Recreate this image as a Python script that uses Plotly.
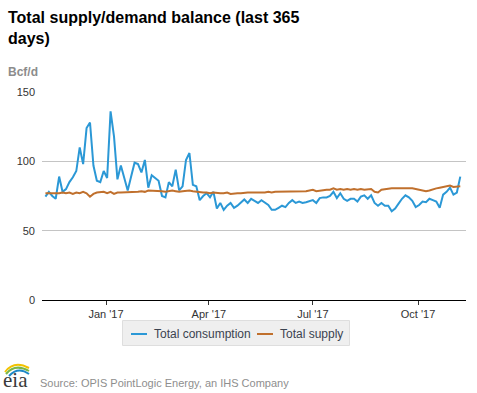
import pandas as pd
import plotly.graph_objects as go

# ---------------- data (3-day sampling) ----------------
start_date = "2016-11-09"
consumption = [
    74.5, 78, 75, 73, 89, 78, 80, 85, 88.5, 93,
    110, 98, 124, 128, 97, 86, 85, 93, 88, 136,
    118, 87, 97, 88, 79, 89, 99, 98, 92, 101,
    81, 90, 88, 86, 75, 74, 85, 82, 94, 79,
    82, 101, 106, 83, 82, 72, 75, 77, 74, 78,
    66, 70, 65, 68, 70, 66.5, 68, 70, 72.5, 70,
    73, 71.5, 70, 72, 70, 68.5, 65, 65, 66.5, 68,
    67, 70, 72, 70, 71, 70, 70.5, 71, 72, 70,
    73.5, 74, 74, 75, 78, 73.5, 77, 73, 71.5, 73,
    73, 71, 74.5, 75.5, 73, 75.5, 70, 68, 70, 68,
    68, 64, 66, 69.5, 73, 75.5, 74, 71.5, 67, 68.5,
    71, 70.5, 73, 72, 71, 66.5, 76, 78, 81, 76,
    77.5, 89,
]
supply = [
    77, 77, 76.5, 77, 77, 77.5, 77, 77.5, 76.5, 77.5,
    77, 78, 77, 74.5, 76.5, 77.5, 77.5, 78, 77, 78,
    76.5, 77.5, 77.5, 77.5, 77.5, 78, 78, 78, 78.5, 78,
    79, 79, 79, 78.5, 78.5, 78, 78.5, 79, 78.5, 78,
    78.5, 79, 79, 78.5, 78, 77.5, 77.5, 77.5, 77, 77.5,
    77, 77, 77, 77.5, 76.5, 77, 77, 77, 77.5, 77.5,
    77.5, 77.5, 77, 77.5, 77.5, 78, 77.5, 78, 78, 78,
    78.5, 78, 78.5, 78, 78.5, 78.5, 78.5, 79, 79.5, 78.5,
    79, 79.5, 79.5, 79.5, 80.5, 79.5, 80, 79.5, 80, 79.5,
    80, 79.5, 80, 79.5, 80, 80, 78, 77.5, 79.5, 80,
    80, 80.5, 80.5, 80.5, 81, 81, 80.5, 80.5, 80, 79.5,
    79, 78.5, 79, 80, 80.5, 81, 81.5, 82, 82.5, 81.5,
    82, 82,
]
dates = pd.date_range(start_date, periods=len(consumption), freq="3D")

series_names = ["Total consumption", "Total supply"]
series_colors = ["#2b98d6", "#c0702d"]
y_ticks = [0, 50, 100, 150]
title_text = "Total supply/demand balance (last 365<br>days)"
unit_text = "Bcf/d"
source_text = "Source: OPIS PointLogic Energy, an IHS Company"

# ---------------- geometry helpers ----------------
W, H = 477, 393
ML, MR, MT, MB = 42, 11, 92, 93
PW, PH = W - ML - MR, H - MT - MB


def px(x):
    return (x - ML) / PW


def py(y):
    return (H - MB - y) / PH


FONT = "Arial, 'Liberation Sans', sans-serif"

fig = go.Figure()
for name, vals, col in zip(series_names, [consumption, supply], series_colors):
    fig.add_trace(go.Scatter(x=dates, y=vals, name=name, mode="lines",
                             line=dict(color=col, width=2), showlegend=False))

shapes = []
annotations = []

# title
annotations.append(dict(text="<b>" + title_text + "</b>", xref="paper", yref="paper",
                        x=px(6), y=py(7), xanchor="left", yanchor="top", align="left",
                        showarrow=False,
                        font=dict(family=FONT, size=16, color="#000000")))

# custom legend box
shapes.append(dict(type="rect", xref="paper", yref="paper",
                   x0=px(122.5), x1=px(349.5), y0=py(345.5), y1=py(320.5),
                   fillcolor="#efefef", line=dict(color="#dedede", width=1), layer="above"))
leg_items = [(131, 147, 152), (257, 273, 278)]
for (lx0, lx1, tx), name, col in zip(leg_items, series_names, series_colors):
    shapes.append(dict(type="line", xref="paper", yref="paper",
                       x0=px(lx0), x1=px(lx1), y0=py(334), y1=py(334),
                       line=dict(color=col, width=2), layer="above"))
    annotations.append(dict(text=name, xref="paper", yref="paper", x=px(tx), y=py(334),
                            xanchor="left", yanchor="middle", showarrow=False,
                            font=dict(family=FONT, size=12, color="#3b4350")))

# unit label
annotations.append(dict(text="<b>" + unit_text + "</b>", xref="paper", yref="paper",
                        x=px(6), y=py(72), xanchor="left", yanchor="middle", showarrow=False,
                        font=dict(family=FONT, size=12, color="#8c8c8c")))

# source
annotations.append(dict(text=source_text, xref="paper", yref="paper",
                        x=px(38), y=py(383), xanchor="left", yanchor="middle", showarrow=False,
                        font=dict(family=FONT, size=11, color="#8e8e8e")))

# eia logo (text + arcs)
annotations.append(dict(text="eia", xref="paper", yref="paper",
                        x=px(1), y=py(379.5), xanchor="left", yanchor="middle", showarrow=False,
                        font=dict(family="'Liberation Serif', 'DejaVu Serif', serif", size=21,
                                  color="#3a3a3a")))


def arc(x0, y0, cx, cy, x1, y1):
    return "M {} {} Q {} {} {} {}".format(px(x0), py(y0), px(cx), py(cy), px(x1), py(y1))


for (pth, col) in [
    (arc(5, 372, 14, 360, 29, 368), "#f2c200"),
    (arc(6, 374, 15, 363, 29, 371), "#7ab648"),
    (arc(9, 376, 18, 366, 29, 374), "#1e88c7"),
]:
    shapes.append(dict(type="path", xref="paper", yref="paper", path=pth,
                       line=dict(color=col, width=2), layer="above"))

fig.update_layout(
    width=W, height=H,
    margin=dict(l=ML, r=MR, t=MT, b=MB, pad=0),
    paper_bgcolor="white", plot_bgcolor="white",
    font=dict(family=FONT, size=11, color="#333333"),
    xaxis=dict(type="date", range=["2016-11-06", "2017-11-12"],
               tick0="2017-01-01", dtick="M3", tickformat="%b '%y",
               showgrid=False, showline=True, linecolor="#000000", linewidth=1,
               ticks="outside", ticklen=4, tickcolor="#333333",
               tickfont=dict(family=FONT, size=11, color="#333333"), zeroline=False),
    yaxis=dict(range=[0, 150], tickvals=y_ticks, showgrid=True, gridcolor="#c4c4c4",
               gridwidth=1, zeroline=False, showline=False, ticks="",
               ticklabelstandoff=6,
               tickfont=dict(family=FONT, size=11, color="#333333")),
    shapes=shapes,
    annotations=annotations,
)

fig.write_html("out.html", config={"displayModeBar": False},
               post_script="document.body.style.margin='0';document.body.style.padding='0';")
